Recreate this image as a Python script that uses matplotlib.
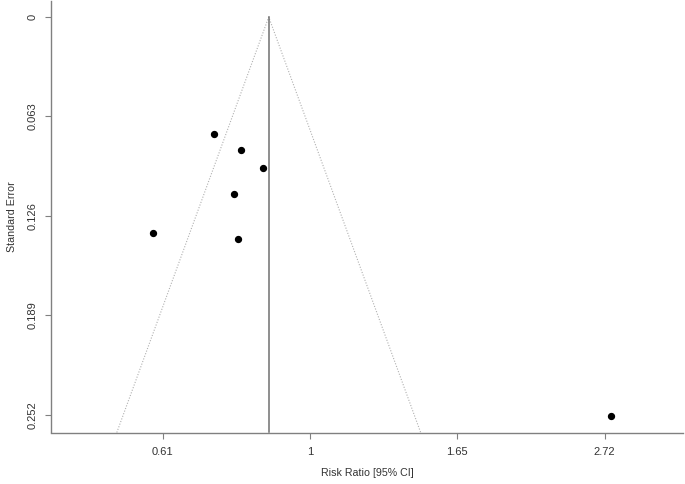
"""
Funnel plot of risk ratios (log scale) against standard error
"""

# %% Imports

import numpy as np
import matplotlib
matplotlib.use('Agg')
import matplotlib.pyplot as plt


# %% Data

# log risk ratios and standard errors of the studies
yi = [-0.326, -0.235, -0.158, -0.258, -0.534, -0.245, 1.022]
sei = [0.0739, 0.0842, 0.0954, 0.1121, 0.1368, 0.1406, 0.2524]

# pooled estimate (log scale)
est = -0.140

xticks = [-0.5, 0, 0.5, 1]
xticklabels = ['0.61', '1', '1.65', '2.72']
yticks = [0, 0.063, 0.126, 0.189, 0.252]
yticklabels = ['0', '0.063', '0.126', '0.189', '0.252']


# %% Plot

plt.rcParams['font.family'] = ['Liberation Sans', 'DejaVu Sans']

fig = plt.figure(figsize=(6.85, 4.84), dpi=100)
ax = fig.add_axes([51 / 685, 1 - 432.5 / 484, 632 / 685, 432 / 484])

ylo, yhi = -0.01045, 0.2631
ax.set_ylim(yhi, ylo)
ax.set_xlim(-0.879, 1.266)

# pseudo confidence region
ax.plot([est - 1.96 * yhi, est, est + 1.96 * yhi], [yhi, 0, yhi],
        color='#b0b0b0', linestyle=(0, (1, 1.5)), linewidth=0.8)

# estimate line
ax.plot([est, est], [0, yhi], color='#707070', linewidth=1.1)

ax.scatter(yi, sei, s=18, color='black', zorder=3)

ax.set_xticks(xticks)
ax.set_xticklabels(xticklabels)
ax.set_yticks(yticks)
ax.set_yticklabels(yticklabels, rotation=90, va='center')

for s in ['top', 'right']:
    ax.spines[s].set_visible(False)
for s in ['left', 'bottom']:
    ax.spines[s].set_color('#808080')
    ax.spines[s].set_linewidth(1.0)

ax.tick_params(axis='both', colors='#808080', length=4.5, width=0.8,
               labelsize=8, labelcolor='#333333', pad=6)
ax.tick_params(axis='y', pad=5)

ax.set_xlabel('Risk Ratio [95% CI]', fontsize=7.7, color='#333333',
              labelpad=8)
ax.set_ylabel('Standard Error', fontsize=7.7, color='#333333', labelpad=8)

fig.savefig('out.png', dpi=100)
